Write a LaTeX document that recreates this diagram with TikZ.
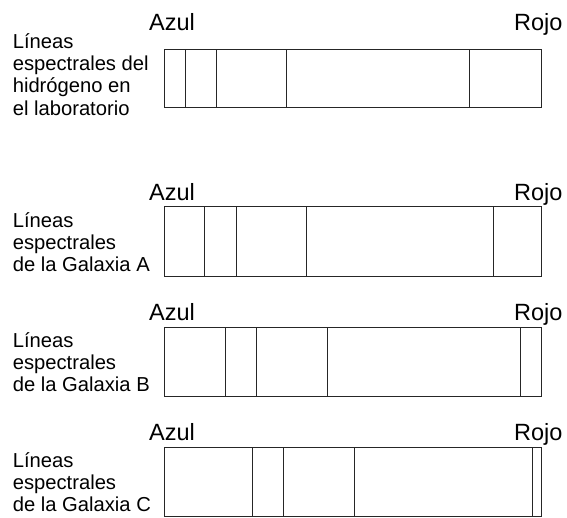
\documentclass[tikz,border=0pt]{standalone}
\usepackage{fontspec}
\setmainfont{Liberation Sans}
\usepackage{tikz}
\usetikzlibrary{positioning}

\begin{document}
\begin{tikzpicture}[x=1pt,y=-1pt,
	linea/.style={line width=0.8pt, draw=black!85},
	etiqueta/.style={font=\fontsize{20.2}{22.3}\selectfont, align=left, anchor=base west, inner sep=0pt},
	extremo/.style={font=\fontsize{23.5}{24}\selectfont, inner sep=0pt}]
	\useasboundingbox (0,0) rectangle (567,517);
	\def\L{164}
	\def\R{541}
	
	% laboratorio (base = last line)
	\def\T{49.3}
	\def\B{107.7}
	\draw[linea] (\L,\T) rectangle (\R,\B);
	\draw[linea] (185.5,\T) -- (185.5,\B);
	\draw[linea] (216.3,\T) -- (216.3,\B);
	\draw[linea] (286.8,\T) -- (286.8,\B);
	\draw[linea] (469.4,\T) -- (469.4,\B);
	\node[extremo, anchor=base west] (azulH) at (149,30.7) {Azul};
	\node[extremo, anchor=base east] (rojoH) at (562.6,30.7) {Rojo};
	\node[etiqueta] (textoH) at (12.6,115) {Líneas\\espectrales del\\hidrógeno en\\el laboratorio};
	
	% galaxia A
	\def\T{206.7}
	\def\B{276}
	\draw[linea] (\L,\T) rectangle (\R,\B);
	\draw[linea] (204.8,\T) -- (204.8,\B);
	\draw[linea] (236.2,\T) -- (236.2,\B);
	\draw[linea] (306.5,\T) -- (306.5,\B);
	\draw[linea] (493,\T) -- (493,\B);
	\node[extremo, anchor=base west] (azulA) at (149,200.7) {Azul};
	\node[extremo, anchor=base east] (rojoA) at (562.6,200.7) {Rojo};
	\node[etiqueta] (textoA) at (12.6,271.7) {Líneas\\espectrales\\de la Galaxia A};
	
	% galaxia B
	\def\T{327.3}
	\def\B{396}
	\draw[linea] (\L,\T) rectangle (\R,\B);
	\draw[linea] (225.7,\T) -- (225.7,\B);
	\draw[linea] (256.8,\T) -- (256.8,\B);
	\draw[linea] (327.4,\T) -- (327.4,\B);
	\draw[linea] (520.4,\T) -- (520.4,\B);
	\node[extremo, anchor=base west] (azulB) at (149,320.7) {Azul};
	\node[extremo, anchor=base east] (rojoB) at (562.6,320.7) {Rojo};
	\node[etiqueta] (textoB) at (12.6,391.7) {Líneas\\espectrales\\de la Galaxia B};
	
	% galaxia C
	\def\T{447.3}
	\def\B{516}
	\draw[linea] (\L,\T) rectangle (\R,\B);
	\draw[linea] (252.8,\T) -- (252.8,\B);
	\draw[linea] (283.8,\T) -- (283.8,\B);
	\draw[linea] (354.5,\T) -- (354.5,\B);
	\draw[linea] (532.5,\T) -- (532.5,\B);
	\node[extremo, anchor=base west] (azulC) at (149,440.7) {Azul};
	\node[extremo, anchor=base east] (rojoC) at (562.6,440.7) {Rojo};
	\node[etiqueta] (textoC) at (12.6,511.7) {Líneas\\espectrales\\de la Galaxia C};
\end{tikzpicture}
\end{document}
